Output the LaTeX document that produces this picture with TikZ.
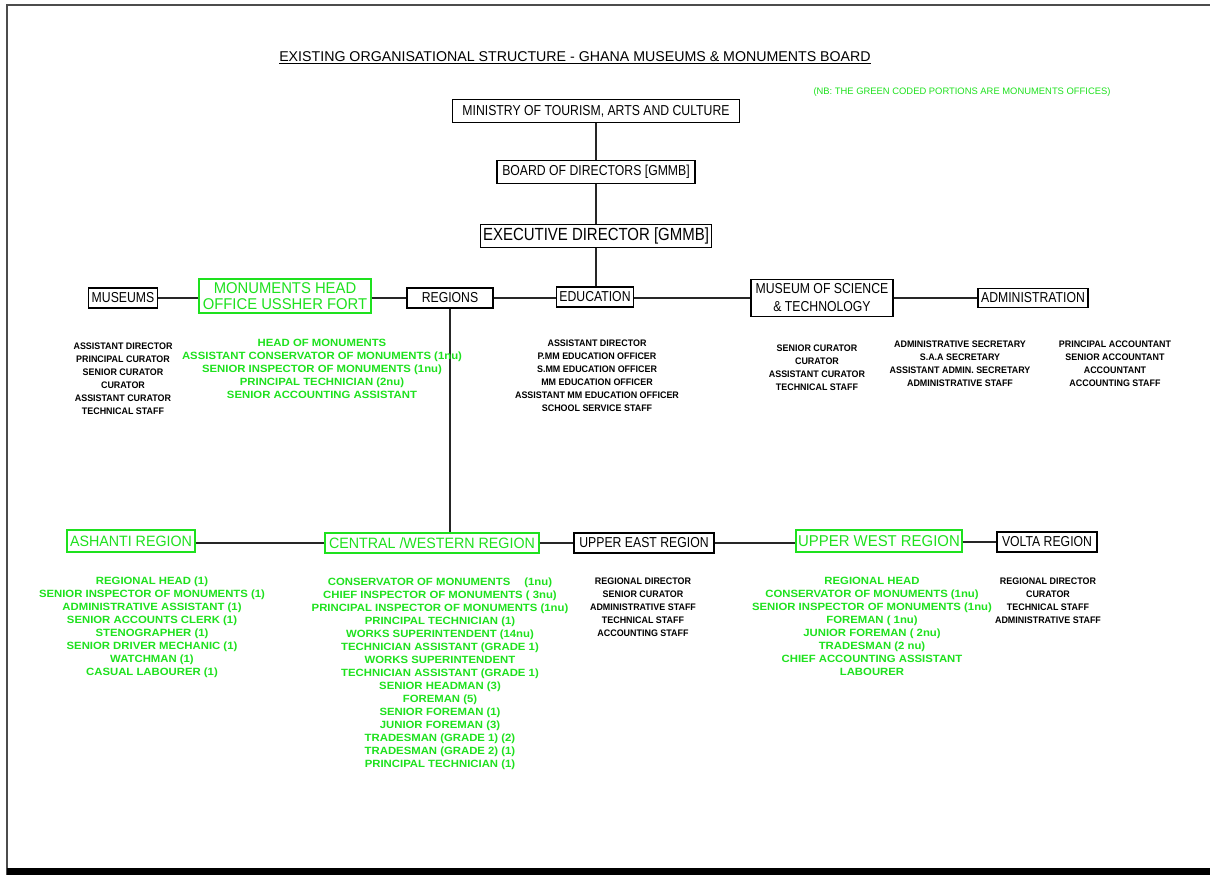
\documentclass[tikz,border=0pt]{standalone}
\usepackage{fontspec}
\setmainfont{Liberation Sans}
\newfontfamily\fblk{Liberation Sans}[FakeStretch=0.85]
\newfontfamily\fgrn{Liberation Sans}[FakeStretch=0.95]
\newfontfamily\fbl{Liberation Sans}[FakeStretch=0.94]
\newfontfamily\fgl{Liberation Sans}[FakeStretch=1.08]
\definecolor{grn}{RGB}{30,225,30}
\begin{document}
\begin{tikzpicture}[x=1pt,y=-1pt,
  bbox/.style={draw=black, line width=1.6pt, fill=white, inner sep=2pt, text=black, font=\fblk\fontsize{14.4}{16}\selectfont},
  gbox/.style={draw=grn, line width=1.2pt, fill=white, inner sep=2pt, text=grn, font=\fgrn\fontsize{15}{16}\selectfont},
  blist/.style={align=center, inner sep=0pt, anchor=north, text=black, font=\fbl\bfseries\fontsize{9.5}{13}\selectfont},
  glist/.style={align=center, inner sep=0pt, anchor=north, text=grn, font=\fgl\bfseries\fontsize{10.5}{13}\selectfont},
  link/.style={line width=1.5pt, draw=black!85}]
\useasboundingbox (0,0) rectangle (1210,875);
% page frame
\draw[line width=1.8pt, black!70] (7,875) -- (7,5) -- (1210,5);
\fill[black] (7,868) rectangle (1210,875);

% title and note
\node[inner sep=0pt, font=\fontsize{14.2}{16}\selectfont] (title) at (575,58) {\underline{EXISTING ORGANISATIONAL STRUCTURE - GHANA MUSEUMS \& MONUMENTS BOARD}};
\node[inner sep=0pt, text=grn, font=\fontsize{9.4}{10}\selectfont] (note) at (962,92) {(NB: THE GREEN CODED PORTIONS ARE MONUMENTS OFFICES)};

% top chain
\node[bbox, minimum width=287pt, minimum height=23pt] (min) at (596,111) {MINISTRY OF TOURISM, ARTS AND CULTURE};
\node[bbox, minimum width=198pt, minimum height=23pt] (board) at (596,172) {BOARD OF DIRECTORS [GMMB]};
\node[bbox, minimum width=231pt, minimum height=23pt, font=\fblk\fontsize{17.6}{19}\selectfont] (exec) at (596,236) {EXECUTIVE DIRECTOR [GMMB]};

% first row
\node[bbox, minimum width=69pt, minimum height=20pt] (mus) at (123,298) {MUSEUMS};
\node[gbox, minimum width=172pt, minimum height=34pt, align=center, font=\fgrn\fontsize{15.6}{16}\selectfont] (mon) at (285,296) {MONUMENTS HEAD\\OFFICE USSHER FORT};
\node[bbox, minimum width=86pt, minimum height=20pt] (reg) at (450,298) {REGIONS};
\node[bbox, minimum width=77pt, minimum height=20pt] (edu) at (595,297) {EDUCATION};
\node[bbox, minimum width=142pt, minimum height=37pt, align=center, font=\fblk\fontsize{14.4}{18}\selectfont] (most) at (822,298) {MUSEUM OF SCIENCE\\\& TECHNOLOGY};
\node[bbox, minimum width=110pt, minimum height=19pt] (adm) at (1033,298) {ADMINISTRATION};

% second row
\node[gbox, minimum width=128pt, minimum height=22pt] (ash) at (131,541) {ASHANTI REGION};
\node[gbox, minimum width=214pt, minimum height=20pt] (cw) at (432,543) {CENTRAL /WESTERN REGION};
\node[bbox, minimum width=140pt, minimum height=20pt] (ue) at (644,543) {UPPER EAST REGION};
\node[gbox, minimum width=166pt, minimum height=22pt, font=\fgrn\fontsize{15.7}{16}\selectfont] (uw) at (879,541) {UPPER WEST REGION};
\node[bbox, minimum width=100pt, minimum height=20pt] (vol) at (1047,542) {VOLTA REGION};

% connectors
\draw[link] (min.south) -- (board.north);
\draw[link] (board.south) -- (exec.north);
\draw[link] (exec.south) -- (exec.south |- edu.north);
\draw[link] (mus.east) -- (mon.west |- mus.east);
\draw[link] (mon.east |- reg.west) -- (reg.west);
\draw[link] (reg.east) -- (edu.west |- reg.east);
\draw[link] (edu.east |- most.west) -- (most.west);
\draw[link] (most.east) -- (adm.west |- most.east);
\draw[link] (reg.south) -- (reg.south |- cw.north);
\draw[link] (ash.east |- cw.west) -- (cw.west);
\draw[link] (cw.east) -- (ue.west);
\draw[link] (ue.east) -- (uw.west |- ue.east);
\draw[link] (uw.east |- vol.west) -- (vol.west);

% lists, first row
\node[blist] (lmus) at (123,342.5) {ASSISTANT DIRECTOR\\PRINCIPAL CURATOR\\SENIOR CURATOR\\CURATOR\\ASSISTANT CURATOR\\TECHNICAL STAFF};
\node[glist] (lmon) at (322,339) {HEAD OF MONUMENTS\\ASSISTANT CONSERVATOR OF MONUMENTS (1nu)\\SENIOR INSPECTOR OF MONUMENTS (1nu)\\PRINCIPAL TECHNICIAN (2nu)\\SENIOR ACCOUNTING ASSISTANT};
\node[blist] (ledu) at (597,339.5) {ASSISTANT DIRECTOR\\P.MM EDUCATION OFFICER\\S.MM EDUCATION OFFICER\\MM EDUCATION OFFICER\\ASSISTANT MM EDUCATION OFFICER\\SCHOOL SERVICE STAFF};
\node[blist] (lmost) at (817,344.5) {SENIOR CURATOR\\CURATOR\\ASSISTANT CURATOR\\TECHNICAL STAFF};
\node[blist] (ladm) at (960,340.5) {ADMINISTRATIVE SECRETARY\\S.A.A SECRETARY\\ASSISTANT ADMIN. SECRETARY\\ADMINISTRATIVE STAFF};
\node[blist] (lacc) at (1115,340.5) {PRINCIPAL ACCOUNTANT\\SENIOR ACCOUNTANT\\ACCOUNTANT\\ACCOUNTING STAFF};

% lists, second row
\node[glist] (lash) at (152,577) {REGIONAL HEAD (1)\\SENIOR INSPECTOR OF MONUMENTS (1)\\ADMINISTRATIVE ASSISTANT (1)\\SENIOR ACCOUNTS CLERK (1)\\STENOGRAPHER (1)\\SENIOR DRIVER MECHANIC (1)\\WATCHMAN (1)\\CASUAL LABOURER (1)};
\node[glist] (lcw) at (440,578) {CONSERVATOR OF MONUMENTS\hspace{14pt}(1nu)\\CHIEF INSPECTOR OF MONUMENTS ( 3nu)\\PRINCIPAL INSPECTOR OF MONUMENTS (1nu)\\PRINCIPAL TECHNICIAN (1)\\WORKS SUPERINTENDENT (14nu)\\TECHNICIAN ASSISTANT (GRADE 1)\\WORKS SUPERINTENDENT\\TECHNICIAN ASSISTANT (GRADE 1)\\SENIOR HEADMAN (3)\\FOREMAN (5)\\SENIOR FOREMAN (1)\\JUNIOR FOREMAN (3)\\TRADESMAN (GRADE 1) (2)\\TRADESMAN (GRADE 2) (1)\\PRINCIPAL TECHNICIAN (1)};
\node[blist] (lue) at (643,577.5) {REGIONAL DIRECTOR\\SENIOR CURATOR\\ADMINISTRATIVE STAFF\\TECHNICAL STAFF\\ACCOUNTING STAFF};
\node[glist] (luw) at (872,577) {REGIONAL HEAD\\CONSERVATOR OF MONUMENTS (1nu)\\SENIOR INSPECTOR OF MONUMENTS (1nu)\\FOREMAN ( 1nu)\\JUNIOR FOREMAN ( 2nu)\\TRADESMAN (2 nu)\\CHIEF ACCOUNTING ASSISTANT\\LABOURER};
\node[blist] (lvol) at (1048,577.5) {REGIONAL DIRECTOR\\CURATOR\\TECHNICAL STAFF\\ADMINISTRATIVE STAFF};
\end{tikzpicture}
\end{document}
